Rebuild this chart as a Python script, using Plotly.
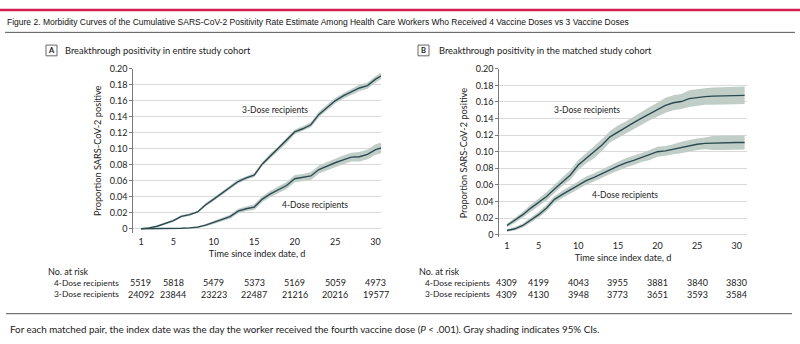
import plotly.graph_objects as go

# ---- data -------------------------------------------------------------
days = list(range(1, 32))

# Panel A: entire study cohort
a_three = [0, 0.001, 0.003, 0.0065, 0.010, 0.0155, 0.0175, 0.021, 0.030, 0.037,
           0.044, 0.052, 0.059, 0.0635, 0.067, 0.081, 0.091, 0.100, 0.110, 0.121,
           0.125, 0.130, 0.143, 0.152, 0.160, 0.166, 0.171, 0.176, 0.179, 0.187, 0.193]
a_three_lo = [0, 0.0005, 0.002, 0.0055, 0.0085, 0.014, 0.016, 0.0195, 0.028, 0.035,
              0.042, 0.050, 0.0565, 0.061, 0.0645, 0.0785, 0.088, 0.097, 0.107, 0.118,
              0.122, 0.127, 0.1395, 0.1485, 0.1565, 0.1625, 0.167, 0.172, 0.175, 0.183, 0.189]
a_three_hi = [0, 0.0015, 0.004, 0.0075, 0.0115, 0.017, 0.019, 0.0225, 0.032, 0.039,
              0.046, 0.054, 0.0615, 0.066, 0.0695, 0.0835, 0.094, 0.103, 0.113, 0.124,
              0.128, 0.133, 0.1465, 0.1555, 0.1635, 0.1695, 0.175, 0.180, 0.183, 0.191, 0.197]

a_four = [0, 0, 0, 0, 0, 0.0005, 0.001, 0.002, 0.0045, 0.008,
          0.011, 0.015, 0.022, 0.025, 0.027, 0.037, 0.0435, 0.049, 0.054, 0.0625,
          0.064, 0.066, 0.074, 0.0785, 0.0825, 0.086, 0.0895, 0.090, 0.093, 0.099, 0.102]
a_four_lo = [0, 0, 0, 0, 0, 0, 0, 0.001, 0.003, 0.006,
             0.009, 0.0125, 0.019, 0.022, 0.0235, 0.0335, 0.0395, 0.045, 0.0495, 0.058,
             0.0595, 0.061, 0.069, 0.0735, 0.077, 0.0805, 0.084, 0.084, 0.087, 0.0925, 0.0955]
a_four_hi = [0, 0, 0, 0.0003, 0.0005, 0.001, 0.002, 0.003, 0.006, 0.010,
             0.013, 0.0175, 0.025, 0.028, 0.0305, 0.0405, 0.0475, 0.053, 0.0585, 0.067,
             0.0685, 0.071, 0.079, 0.0835, 0.088, 0.0915, 0.095, 0.096, 0.099, 0.1055, 0.1085]

# Panel B: matched study cohort
b_three = [0.011, 0.017, 0.024, 0.032, 0.039, 0.046, 0.055, 0.064, 0.072, 0.084,
           0.092, 0.099, 0.108, 0.118, 0.124, 0.129, 0.135, 0.1405, 0.146, 0.151,
           0.156, 0.159, 0.1605, 0.164, 0.1655, 0.1665, 0.167, 0.1673, 0.1676, 0.168, 0.168]
b_three_lo = [0.009, 0.014, 0.0205, 0.028, 0.0345, 0.041, 0.050, 0.059, 0.066, 0.078,
              0.086, 0.092, 0.101, 0.111, 0.1165, 0.1215, 0.1275, 0.1325, 0.138, 0.143,
              0.147, 0.150, 0.1515, 0.154, 0.1555, 0.1565, 0.1565, 0.1568, 0.1571, 0.1575, 0.1575]
b_three_hi = [0.013, 0.020, 0.0275, 0.036, 0.0435, 0.051, 0.060, 0.069, 0.078, 0.090,
              0.098, 0.106, 0.115, 0.125, 0.1315, 0.1365, 0.1425, 0.1485, 0.154, 0.159,
              0.165, 0.168, 0.1695, 0.174, 0.1755, 0.1765, 0.1775, 0.1778, 0.1781, 0.1785, 0.1785]

b_four = [0.005, 0.007, 0.011, 0.017, 0.024, 0.032, 0.0425, 0.0485, 0.054, 0.060,
          0.065, 0.069, 0.074, 0.078, 0.0825, 0.0865, 0.0895, 0.093, 0.096, 0.100,
          0.101, 0.103, 0.105, 0.107, 0.109, 0.110, 0.1104, 0.1106, 0.1108, 0.111, 0.111]
b_four_lo = [0.0035, 0.005, 0.0085, 0.014, 0.0205, 0.028, 0.0385, 0.044, 0.0495, 0.0555,
             0.060, 0.064, 0.069, 0.073, 0.077, 0.081, 0.084, 0.0875, 0.090, 0.094,
             0.095, 0.097, 0.098, 0.100, 0.102, 0.103, 0.102, 0.1021, 0.1023, 0.1025, 0.1025]
b_four_hi = [0.0065, 0.009, 0.0135, 0.020, 0.0275, 0.036, 0.0465, 0.053, 0.0585, 0.0645,
             0.070, 0.074, 0.079, 0.083, 0.088, 0.092, 0.095, 0.0985, 0.102, 0.106,
             0.107, 0.109, 0.112, 0.114, 0.116, 0.117, 0.119, 0.1191, 0.1193, 0.1195, 0.1195]

x_ticks = [1, 5, 10, 15, 20, 25, 30]
y_ticks = [0, 0.02, 0.04, 0.06, 0.08, 0.10, 0.12, 0.14, 0.16, 0.18, 0.20]
y_tick_text = ["0", "0.02", "0.04", "0.06", "0.08", "0.10", "0.12", "0.14", "0.16", "0.18", "0.20"]

# numbers at risk at each x tick
a_risk_four = ["5519", "5818", "5479", "5373", "5169", "5059", "4973"]
a_risk_three = ["24092", "23844", "23223", "22487", "21216", "20216", "19577"]
b_risk_four = ["4309", "4199", "4043", "3955", "3881", "3840", "3830"]
b_risk_three = ["4309", "4130", "3948", "3773", "3651", "3593", "3584"]

# ---- styling ----------------------------------------------------------
FONT = "Lato, Open Sans, sans-serif"
TITLE_FONT = "Liberation Sans Narrow, Arial Narrow, sans-serif"
LINE = "#2b4a50"
BAND = "#c0cec7"
GRID = "#dadada"
TXT = "#222222"

W, H = 800, 344


def py(p):
    """pixel row -> paper y"""
    return 1 - p / H


def px(p):
    return p / W


fig = go.Figure()


def add_curve(xa, ya, y, lo, hi):
    fig.add_trace(go.Scatter(x=days, y=hi, xaxis=xa, yaxis=ya, mode="lines",
                             line=dict(width=0), hoverinfo="skip", showlegend=False))
    fig.add_trace(go.Scatter(x=days, y=lo, xaxis=xa, yaxis=ya, mode="lines",
                             line=dict(width=0), fill="tonexty", fillcolor=BAND,
                             hoverinfo="skip", showlegend=False))
    fig.add_trace(go.Scatter(x=days, y=y, xaxis=xa, yaxis=ya, mode="lines",
                             line=dict(color=LINE, width=1.4), showlegend=False))


add_curve("x", "y", a_three, a_three_lo, a_three_hi)
add_curve("x", "y", a_four, a_four_lo, a_four_hi)
add_curve("x2", "y2", b_three, b_three_lo, b_three_hi)
add_curve("x2", "y2", b_four, b_four_lo, b_four_hi)

yaxis_common = dict(
    tickvals=y_ticks, ticktext=y_tick_text, showgrid=True, gridcolor=GRID, gridwidth=1,
    zeroline=False, showline=True, linecolor="#7a7a7a", linewidth=1,
    ticks="outside", ticklen=3, tickcolor="#7a7a7a",
    tickfont=dict(family=FONT, size=9, color=TXT),
    title=dict(text="Proportion SARS-CoV-2 positive", font=dict(family=FONT, size=9.2, color=TXT),
               standoff=6),
)
xaxis_common = dict(
    tickvals=x_ticks, showgrid=False, zeroline=False, showline=False, ticks="",
    ticklabelstandoff=2,
    tickfont=dict(family=FONT, size=9, color=TXT),
    title=dict(text="Time since index date, d", font=dict(family=FONT, size=9.2, color=TXT),
               standoff=4),
)

fig.update_layout(
    width=W, height=H, margin=dict(l=0, r=0, t=0, b=0),
    paper_bgcolor="white", plot_bgcolor="white",
    xaxis=dict(xaxis_common, domain=[px(133.3), px(381)], range=[0.05, 30.67], anchor="y"),
    yaxis=dict(yaxis_common, domain=[py(232), py(64.3)], range=[-0.0049, 0.2], anchor="x"),
    xaxis2=dict(xaxis_common, domain=[px(499.3), px(746.7)], range=[0.03, 31.26], anchor="y2"),
    yaxis2=dict(yaxis_common, domain=[py(237), py(64.3)], range=[-0.0035, 0.2], anchor="x2"),
)

ann = []


def text(x, y, s, size=9, xanchor="left", xref="paper", color=TXT, family=FONT):
    ann.append(dict(x=x, y=y, xref=xref, yref="paper", text=s, showarrow=False,
                    xanchor=xanchor, yanchor="middle",
                    font=dict(family=family, size=size, color=color)))


# figure title and rules
text(px(5), py(16.5), "Figure 2. Morbidity Curves of the Cumulative SARS-CoV-2 Positivity Rate Estimate "
     "Among Health Care Workers Who Received 4 Vaccine Doses vs 3 Vaccine Doses",
     size=8.5, family=TITLE_FONT, color="#111111")
fig.add_shape(type="line", xref="paper", yref="paper", x0=0, x1=1, y0=py(4), y1=py(4),
              line=dict(color="#d31f4f", width=2.5))
fig.add_shape(type="line", xref="paper", yref="paper", x0=px(5), x1=px(795), y0=py(27), y1=py(27),
              line=dict(color="#555555", width=1))

# panel headers
for letter, bx, tx, label in [("A", 46, 63, "Breakthrough positivity in entire study cohort"),
                              ("B", 418, 437, "Breakthrough positivity in the matched study cohort")]:
    fig.add_shape(type="rect", xref="paper", yref="paper", x0=px(bx), x1=px(bx + 11),
                  y0=py(51), y1=py(40), line=dict(color="#666666", width=1))
    text(px(bx + 5.5), py(45.5), "<b>" + letter + "</b>", size=7.5, xanchor="center")
    text(px(tx), py(45.5), label, size=9.3)

# curve labels
text(275 / W, py(106), "3-Dose recipients", size=8.5, xanchor="center")
text(315 / W, py(203.3), "4-Dose recipients", size=8.5, xanchor="center")
text(586.7 / W, py(106.7), "3-Dose recipients", size=8.5, xanchor="center")
text(625 / W, py(193.3), "4-Dose recipients", size=8.5, xanchor="center")

# numbers at risk
for xr, lx, four, three in [("x", 46, a_risk_four, a_risk_three),
                            ("x2", 417.3, b_risk_four, b_risk_three)]:
    text(px(lx), py(272), "No. at risk", size=9)
    text(px(lx + 5.5), py(283.5), "4-Dose recipients", size=8.4)
    text(px(lx + 5.5), py(295), "3-Dose recipients", size=8.4)
    for d, n4, n3 in zip(x_ticks, four, three):
        text(d, py(283.5), n4, size=9, xanchor="center", xref=xr)
        text(d, py(295), n3, size=9, xanchor="center", xref=xr)

# footnote
fig.add_shape(type="line", xref="paper", yref="paper", x0=px(6), x1=px(792), y0=py(315), y1=py(315),
              line=dict(color="#555555", width=1))
text(px(8), py(330.5), "For each matched pair, the index date was the day the worker received the fourth "
     "vaccine dose (<i>P</i> &lt; .001). Gray shading indicates 95% CIs.", size=9.8)

fig.update_layout(annotations=ann)
fig.write_html("out.html")
